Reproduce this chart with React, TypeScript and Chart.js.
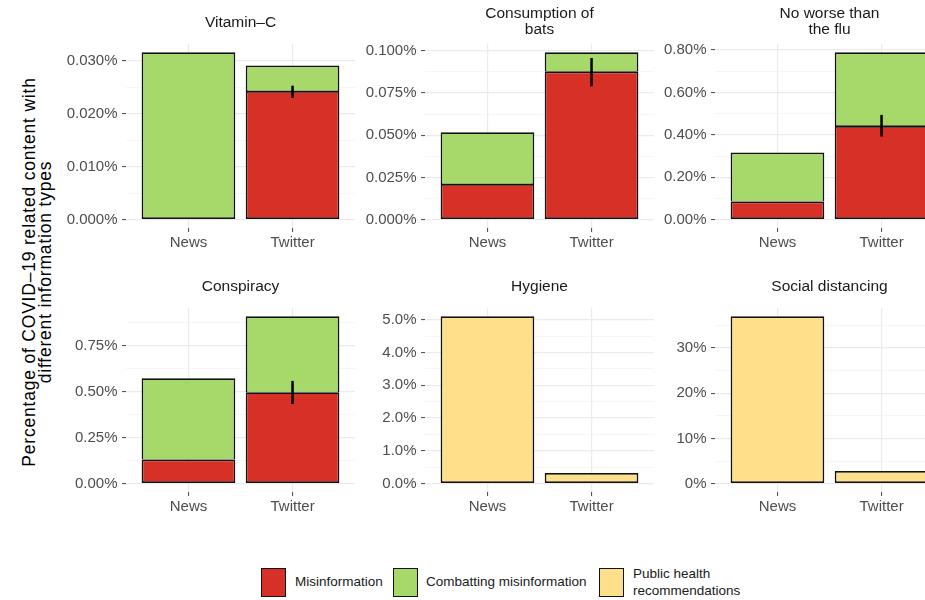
import React, { useEffect, useRef } from "react";
import { Chart, registerables } from "chart.js";

Chart.register(...registerables);

// ---------- DATA ----------
const categories = ["News", "Twitter"];

const panelTitles: string[][] = [
  ["Vitamin–C"],
  ["Consumption of", "bats"],
  ["No worse than", "the flu"],
  ["Conspiracy"],
  ["Hygiene"],
  ["Social distancing"],
];

// values are percentages (News, Twitter) for each panel
const misinformation: (number | null)[][] = [
  [null, 0.0243],
  [0.0211, 0.0876],
  [0.085, 0.442],
  [0.131, 0.497],
  [null, null],
  [null, null],
];

const combattingMisinformation: (number | null)[][] = [
  [0.0316, 0.0048],
  [0.0306, 0.0114],
  [0.232, 0.347],
  [0.4425, 0.413],
  [null, null],
  [null, null],
];

const publicHealthRecommendations: (number | null)[][] = [
  [null, null],
  [null, null],
  [null, null],
  [null, null],
  [5.1, 0.325],
  [37.0, 2.8],
];

// error bar on Twitter misinformation
const twitterMisinfoLow: (number | null)[] = [0.023, 0.0789, 0.392, 0.433, null, null];
const twitterMisinfoHigh: (number | null)[] = [0.0253, 0.0957, 0.494, 0.559, null, null];

const yTickValues: number[][] = [
  [0, 0.01, 0.02, 0.03],
  [0, 0.025, 0.05, 0.075, 0.1],
  [0, 0.2, 0.4, 0.6, 0.8],
  [0, 0.25, 0.5, 0.75],
  [0, 1, 2, 3, 4, 5],
  [0, 10, 20, 30],
];

const yTickLabels: string[][] = [
  ["0.000%", "0.010%", "0.020%", "0.030%"],
  ["0.000%", "0.025%", "0.050%", "0.075%", "0.100%"],
  ["0.00%", "0.20%", "0.40%", "0.60%", "0.80%"],
  ["0.00%", "0.25%", "0.50%", "0.75%"],
  ["0.0%", "1.0%", "2.0%", "3.0%", "4.0%", "5.0%"],
  ["0%", "10%", "20%", "30%"],
];

const legendLabels = ["Misinformation", "Combatting misinformation", "Public health\nrecommendations"];
const yAxisTitle = ["Percentage of COVID–19 related content with", "different information types"];

// ---------- STYLE / LAYOUT ----------
const RED = "#D73027";
const GREEN = "#A6D96A";
const YELLOW = "#FEE08B";
const BORDER = "#111111";
const BW = 1.7;
const FONT = '"Liberation Sans", Arial, Helvetica, sans-serif';

const PLOT_LEFT = [126, 425, 715];
const PLOT_TOP = [44, 308];
const PLOT_W = 229;
const PLOT_H = 184;
const Y_AXIS_W = 70;
const X_AXIS_H = 32;
const TITLE_AREA = 44;

const facetTitlePlugin = {
  id: "facetTitle",
  afterDraw(chart: any, _args: any, opts: any) {
    const lines: string[] = opts && opts.lines ? opts.lines : [];
    if (!lines.length) return;
    const { ctx, chartArea } = chart;
    const cx = (chartArea.left + chartArea.right) / 2;
    ctx.save();
    ctx.font = `15.5px ${FONT}`;
    ctx.fillStyle = "#1a1a1a";
    ctx.textAlign = "center";
    ctx.textBaseline = "middle";
    if (lines.length === 1) {
      ctx.fillText(lines[0], cx, chartArea.top - 21);
    } else {
      ctx.fillText(lines[0], cx, chartArea.top - 30);
      ctx.fillText(lines[1], cx, chartArea.top - 14);
    }
    ctx.restore();
  },
};

const errorBarPlugin = {
  id: "errorBar",
  afterDatasetsDraw(chart: any, _args: any, opts: any) {
    if (!opts || opts.low == null || opts.high == null) return;
    const { ctx } = chart;
    const xs = chart.scales.x;
    const ys = chart.scales.y;
    const px = xs.getPixelForValue(opts.at);
    ctx.save();
    ctx.strokeStyle = "#000";
    ctx.lineWidth = 2.5;
    ctx.beginPath();
    ctx.moveTo(px, ys.getPixelForValue(opts.low));
    ctx.lineTo(px, ys.getPixelForValue(opts.high));
    ctx.stroke();
    ctx.restore();
  },
};

function Panel({ index }: { index: number }) {
  const ref = useRef<HTMLCanvasElement>(null);
  const col = index % 3;
  const row = Math.floor(index / 3);
  const W = Y_AXIS_W + PLOT_W;
  const H = TITLE_AREA + PLOT_H + X_AXIS_H;
  const left = PLOT_LEFT[col] - Y_AXIS_W;
  const top = PLOT_TOP[row] - TITLE_AREA;

  useEffect(() => {
    const mis = misinformation[index];
    const com = combattingMisinformation[index];
    const ph = publicHealthRecommendations[index];
    const toPts = (arr: (number | null)[]) => arr.map((v, i) => ({ x: i + 1, y: v }));
    const has = (arr: (number | null)[]) => arr.some((v) => v !== null);

    const totals = categories.map((_, i) => (mis[i] || 0) + (com[i] || 0) + (ph[i] || 0));
    const dataMax = Math.max(...totals);
    const yMin = -0.05 * dataMax;
    const yMax = dataMax * 1.05;

    const majors = yTickValues[index];
    const step = majors[1] - majors[0];
    const tickList: { value: number; minor?: boolean }[] = [];
    if (majors[0] - step / 2 >= yMin) tickList.push({ value: majors[0] - step / 2, minor: true });
    majors.forEach((v, i) => {
      tickList.push({ value: v });
      const mid = v + step / 2;
      if (i < majors.length - 1 || mid <= yMax) tickList.push({ value: mid, minor: true });
    });
    const ticksInRange = tickList.filter((t) => t.value >= yMin && t.value <= yMax);

    const barCommon = {
      borderColor: BORDER,
      borderSkipped: false as const,
      categoryPercentage: 1,
      barPercentage: 0.9,
    };

    const datasets: any[] = [];
    if (has(mis)) {
      datasets.push({
        ...barCommon,
        label: legendLabels[0],
        data: toPts(mis),
        backgroundColor: RED,
        borderWidth: BW,
      });
    }
    if (has(com)) {
      datasets.push({
        ...barCommon,
        label: legendLabels[1],
        data: toPts(com),
        backgroundColor: GREEN,
        borderWidth: (c: any) => ({
          top: BW,
          left: BW,
          right: BW,
          bottom: mis[c.dataIndex] ? 0.6 : BW,
        }),
      });
    }
    if (has(ph)) {
      datasets.push({
        ...barCommon,
        label: legendLabels[2],
        data: toPts(ph),
        backgroundColor: YELLOW,
        borderWidth: BW,
      });
    }

    const tickFont = { family: FONT, size: 15 };
    const chart = new Chart(ref.current as HTMLCanvasElement, {
      type: "bar",
      data: { datasets },
      plugins: [facetTitlePlugin, errorBarPlugin],
      options: {
        animation: false,
        responsive: false,
        maintainAspectRatio: false,
        events: [],
        layout: { padding: { top: TITLE_AREA, left: 0, right: 0, bottom: 0 } },
        plugins: {
          legend: { display: false },
          tooltip: { enabled: false },
          title: { display: false },
          facetTitle: { lines: panelTitles[index] },
          errorBar: {
            at: 2,
            low: twitterMisinfoLow[index],
            high: twitterMisinfoHigh[index],
          },
        } as any,
        scales: {
          x: {
            type: "linear",
            min: 0.4,
            max: 2.6,
            bounds: "data",
            offset: false,
            stacked: true,
            afterBuildTicks: (s: any) => {
              s.ticks = categories.map((_, i) => ({ value: i + 1 }));
            },
            afterFit: (s: any) => {
              s.height = X_AXIS_H;
            },
            ticks: {
              callback: (v: any) => categories[Math.round(Number(v)) - 1] ?? "",
              font: tickFont,
              color: "#4D4D4D",
              padding: 2,
              autoSkip: false,
              maxRotation: 0,
              minRotation: 0,
            },
            grid: {
              offset: false,
              color: "#EBEBEB",
              lineWidth: 1.2,
              tickColor: "#444",
              tickLength: 4,
              tickWidth: 1,
            },
            border: { display: false },
          } as any,
          y: {
            type: "linear",
            min: yMin,
            max: yMax,
            bounds: "data",
            stacked: true,
            afterBuildTicks: (s: any) => {
              s.ticks = ticksInRange.map((t) => ({ value: t.value, minor: !!t.minor }));
            },
            afterFit: (s: any) => {
              s.width = Y_AXIS_W;
            },
            ticks: {
              callback: (v: any) => {
                const k = majors.findIndex((m) => Math.abs(m - Number(v)) < 1e-9);
                return k >= 0 ? yTickLabels[index][k] : "";
              },
              font: tickFont,
              color: "#4D4D4D",
              padding: 4.5,
              autoSkip: false,
            },
            grid: {
              color: (c: any) => (c.tick && c.tick.minor ? "#F2F2F2" : "#EBEBEB"),
              lineWidth: (c: any) => (c.tick && c.tick.minor ? 0.7 : 1.2),
              tickColor: (c: any) => (c.tick && c.tick.minor ? "rgba(0,0,0,0)" : "#444"),
              tickLength: 4,
              tickWidth: 1,
            },
            border: { display: false },
          } as any,
        },
      },
    } as any);
    return () => chart.destroy();
  }, [index]);

  return (
    <canvas
      ref={ref}
      width={W}
      height={H}
      style={{ position: "absolute", left, top, width: W, height: H, display: "block" }}
    />
  );
}

function LegendKey({ color, left }: { color: string; left: number }) {
  return (
    <div
      style={{
        position: "absolute",
        left,
        top: 568,
        width: 25,
        height: 29,
        boxSizing: "border-box",
        border: `1.7px solid ${BORDER}`,
        background: color,
      }}
    />
  );
}

function LegendText({ text, left }: { text: string; left: number }) {
  const lines = text.split("\n");
  return (
    <div
      style={{
        position: "absolute",
        left,
        top: 568,
        height: 29,
        display: "flex",
        flexDirection: "column",
        justifyContent: "center",
        fontFamily: FONT,
        fontSize: 13.5,
        lineHeight: "16.5px",
        color: "#1a1a1a",
        whiteSpace: "nowrap",
      }}
    >
      {lines.map((l, i) => (
        <div key={i}>{l}</div>
      ))}
    </div>
  );
}

export default function App() {
  return (
    <div
      style={{
        position: "absolute",
        left: 0,
        top: 0,
        width: 925,
        height: 600,
        overflow: "hidden",
        background: "#fff",
      }}
    >
      {[0, 1, 2, 3, 4, 5].map((i) => (
        <Panel key={i} index={i} />
      ))}
      <div
        style={{
          position: "absolute",
          left: 37,
          top: 272,
          transform: "translate(-50%, -50%) rotate(-90deg)",
          fontFamily: FONT,
          fontSize: 17.5,
          lineHeight: "15.5px",
          letterSpacing: "0.8px",
          color: "#000",
          whiteSpace: "nowrap",
          textAlign: "center",
        }}
      >
        {yAxisTitle.map((l, i) => (
          <div key={i}>{l}</div>
        ))}
      </div>
      <LegendKey color={RED} left={261} />
      <LegendText text={legendLabels[0]} left={295} />
      <LegendKey color={GREEN} left={393} />
      <LegendText text={legendLabels[1]} left={426} />
      <LegendKey color={YELLOW} left={599} />
      <LegendText text={legendLabels[2]} left={633} />
    </div>
  );
}
